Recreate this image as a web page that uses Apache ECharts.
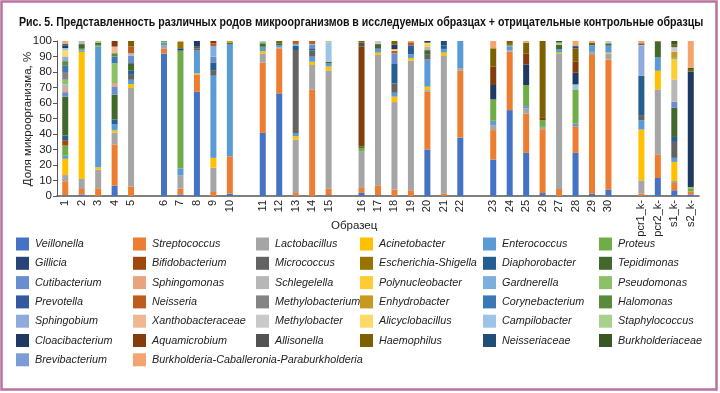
<!DOCTYPE html>
<html><head><meta charset="utf-8">
<script src="https://cdn.jsdelivr.net/npm/echarts@6/dist/echarts.min.js"></script>
<style>html,body{margin:0;padding:0;background:#fff}#c{width:720px;height:393px}</style>
</head><body><div id="c"></div>
<script>
// Samples (x categories) and where the visual gaps are
const samples = ['1','2','3','4','5','6','7','8','9','10','11','12','13','14','15','16','17','18','19','20','21','22','23','24','25','26','27','28','29','30','pcr1_k-','pcr2_k-','s1_k-','s2_k-'];
const gapAfter = ['5','10','15','22','30'];
const yTicks = [0,10,20,30,40,50,60,70,80,90,100];

// Values per genus, % (order: 1..30, pcr1_k-, pcr2_k-, s1_k-, s2_k-)
const Veillonella      = [0.5,1,0,6.6,0, 92,1,67.2,0,1.5, 40.7,66.2,0,0,0.5, 2,0.5,0,0,30, 0,37.7,23.5,55.4,27.8, 1.9,0,27.8,1.5,4.1, 0,11.6,3.7,1];
const Streptococcus    = [9,3.5,5,26.7,6, 3,3.7,11.2,2.6,24.1, 45.3,29.1,1.9,68.8,4.2, 3.2,6.4,4.1,3.7,37.2, 1.5,43.1,19,37.7,25.4, 41.2,4.5,17.2,89.5,84, 1.5,15.3,4.7,2];
const Lactobacillus    = [4,6.5,12,7.5,63.7, 2,8.7,0,15.7,0, 6,0.5,34.5,15.7,76.3, 23.8,84.1,56.5,83.6,1.1, 88.8,1.7,3.2,1,3.3, 1.5,87.1,0,2,3.9, 8.6,41.9,1.3,0];
const Acinetobacter    = [10.5,82,1.5,1.5,2.5, 0,0,0.7,6.3,0, 1.5,0,2.2,2.1,2.5, 0,1.5,3.5,1.7,2.2, 2.2,0,0,0,0, 0,0.9,0,0,0.5, 32.8,12,12.3,0];
const Enterococcus     = [2,1,78,3.9,2.8, 2,4.3,14.7,53,72.5, 2.8,1.6,1.7,3.3,2, 0,2.5,2.5,2.4,17.6, 2.4,17.5,2.8,2.5,1.5, 0,2.3,1.8,4.4,4.5, 6,8.6,2.6,0];
const Proteus          = [6.5,1,1,0,0, 1,76.1,0,0,0, 0,0,0,0,0, 2,0,0,0,0, 0,0,13.8,1,13.6, 4.3,0,22,0,0, 0,0,0,1.5];
const Gillicia         = [0,0,0,0,0, 0,1.5,0,0,0, 0,0,0,0,0, 0,0,0,0,0, 0,0,0,0,0, 0,0,0,0,0, 0,0,0,0];
const Bifidobacterium  = [3.5,0,0,0,0, 0,0,0,0,0, 0,0,0,0,0, 0,0,0,0,0, 0,0,0,0,0, 0,0,0,0,0, 0,0,0,0];
const Micrococcus      = [0,0,0,0,3.2, 0,0,1.5,3.2,0, 0,0,53.9,3.9,0, 0,0,6,0,3, 0,0,0,0,0, 0,0,0,0,0, 3.3,0,10.3,0];
const EscherichiaShigella = [0,0,0,0,0, 0,4.3,0,0,0, 0,0,0,0,0, 0,0,0,0,0, 0,0,0,0,0, 0,0,0,0,0, 0,0,0,0];
const Diaphorobacter   = [3,0,0,3.2,2.6, 0,0,0,5.4,0, 0,0,2.6,1.5,0, 0,0,13,4.1,0, 2.3,0,0,0,0, 0,0,0,0,0, 25.4,0,3.2,0];
const Tepidimonas      = [25,3,1.5,16,4.9, 0,0,1,0,0.8, 2.2,1.1,0,0,1.1, 1,3,0,0,3, 0,0,0,0,0, 0,2.6,0,0,1.5, 0,10.1,18.8,0];
const Cutibacterium    = [3,0,0,5.3,4.9, 0,0,0,3.7,0, 0,0,0,2.5,0, 0,0,6.4,0,0, 0,0,0,0,0, 0,0,0,0,0, 0,0,3.9,0];
const Sphingomonas     = [2,0,0,2.2,0, 0,0,0,0,0, 0,0,0,0,0, 0,0,0,0,0, 0,0,0,0,0, 0,0,0,0,0, 0,0,0,0];
const Schlegelella     = [3,2,0,0,1.5, 0,0,0,0,0, 0,0,0,0,0, 0,0,0,0,2.3, 0,0,0,0,0, 0,0,0,0,0, 0,0,14.4,0];
const Polynucleobacter = [0,0,0,0,0, 0,0,0,0,0, 0,0,0,0,0, 0,0,0,0,1.5, 0,0,0,0,0, 0,0,0,0,0, 0,0,12.9,0];
const Gardnerella      = [0,0,0,0,0, 0,0,0,6.9,0, 0,0,1.3,0.3,0, 0,0,0,0,0, 0,0,0,0,0, 0,0,0,0,0, 0,0,0,0];
const Pseudomonas      = [3,0,0,12.8,0, 0,0,0,0,0, 1,0,0,0,0, 0,0,0,0,0, 0,0,0,0,0, 0,0,0,0,0, 0,0,1,1.3];
const Prevotella       = [0,0,0,0,0, 0,0,0,0,0, 0,0,0,0,0, 0,0,0,1.7,0, 0,0,0,0,0, 0,0,0,0,0, 0,0,0,0];
const Neisseria        = [0,0,0,0,4.3, 0,0,0,1.7,0, 0,0,1.9,1.9,0, 0,0,1.7,2,0, 0,0,0,0,0, 0,0,0,0,0, 0,0.5,0,0];
const Methylobacterium = [5,0,0,0,0, 0,0,0,0,0, 0,0,0,0,0, 0,0,0,0,0, 0,0,0,0,0, 0,0,0,0,0, 0,0,0,0];
const Enhydrobacter    = [0,0,0,0,0, 0,0,0,0,1.1, 0,0,0,0,0, 0,0,0,0,0, 0,0,0,0,0, 0,0,0,0,0, 0,0,4,0];
const Corynebacterium  = [4,0,0,4.3,0, 0,0,0,0,0, 0,0,0,0,0, 0,0,0,0,0, 0,0,0,0,0, 0,0,0,0,0, 0,0,0,0];
const Halomonas        = [3,0,0,2.1,0, 0,0,0,0,0, 0,0,0,0,0, 0,0,0,0,0, 0,0,0,0,0, 0,0,0,0,0, 0,0,0,0];
const Sphingobium      = [3,0,0,0,0, 0,0,0,0,0, 0,0,0,0,0, 0,0,0,0,0, 0,0,0,0,0, 0,0,0,0,0, 19.2,0,0,0];
const Xanthobacteraceae = [0,0,0,4.3,0, 0,0,0,0,0, 0,0,0,0,0, 0,0,0,0,0, 0,0,0,0,0, 0,0,0,0,0, 0,0,0,0];
const Methylobacter    = [0,0,0,0,0, 0,0,0,0,0, 0,0,0,0,0, 0,2,0,0,0, 0,0,0,0,0, 0,0,0,0,1.5, 0,0,2,0];
const Alicyclobacillus = [4,0,0,0,0, 0,0,0,0,0, 0,0,0,0,0, 0,0,1,0,1, 0,0,0,0,0, 0,0,0,0,0, 0,0,0,0];
const Campilobacter    = [1.5,0,0,0,0, 0,0,0,0,0, 0.5,0,0,0,12.5, 0,0,0,0,0, 0,0,0,0,0, 0,0,3.2,0,0, 0.7,0,1,0];
const Staphylococcus   = [0,0,1,0,0, 0,0,0,0,0, 0,0,0,0,0.9, 0,0,0,0,0, 0,0,0,0,0, 0,1.6,0,0,0, 0,0,0,0];
const Cloacibacterium  = [1.5,0,0,0,0, 0,0,3.7,0,0, 0,0,0,0,0, 0,0,3,0,1.1, 0,0,9.3,0,13.3, 0,0,7.5,0,0, 0,0,0,74.4];
const Aquamicrobium    = [0,0,0,3.6,0, 0,0,0,1.5,0, 0,0,0,0,0, 64.6,0,0,0,0, 0,0,11.8,1,7.1, 1.5,0,7.1,0,0, 1,0,0,0];
const Allisonella      = [0,0,0,0,0, 0,0,0,0,0, 0,0,0,0,0, 2.3,0,0,0,0, 0,0,0,0,0, 0,0,0,0,0, 0,0,0,0];
const Haemophilus      = [0,0,0,0,3.6, 0,0,0,0,0, 0,1.5,0,0,0, 1.1,0,2.3,0,0, 0,0,11.9,1.4,6.9, 49.6,0,8.6,1.6,0, 0,0,1.5,1.2];
const Neisseriaceae    = [1,0,0,0,0, 0,0,0,0,0, 0,0,0,0,0, 0,0,0,0,0, 2.8,0,0,0,0, 0,0,1.5,0,0, 0,0,0,0];
const Burkholderiaceae = [0,0,0,0,0, 0,0,0,0,0, 0,0,0,0,0, 0,0,0,0,0, 0,0,0,0,0, 0,1,0,0,0, 0,0,2.4,1.3];
const Brevibacterium   = [0,0,0,0,0, 0,0,0,0,0, 0,0,0,0,0, 0,0,0,0,0, 0,0,0,0,0, 0,0,0,0,0, 0,0,0,0];
const BCP              = [2,0,0,0,0, 0,0.4,0,0,0, 0,0,0,0,0, 0,0,0,0.8,0, 0,0,4.7,0,1.1, 0,0,3.3,1,0, 1.5,0,0,17.3];

const seriesNames = ['Veillonella','Streptococcus','Lactobacillus','Acinetobacter','Enterococcus','Proteus',
 'Gillicia','Bifidobacterium','Micrococcus','Escherichia-Shigella','Diaphorobacter','Tepidimonas',
 'Cutibacterium','Sphingomonas','Schlegelella','Polynucleobacter','Gardnerella','Pseudomonas',
 'Prevotella','Neisseria','Methylobacterium','Enhydrobacter','Corynebacterium','Halomonas',
 'Sphingobium','Xanthobacteraceae','Methylobacter','Alicyclobacillus','Campilobacter','Staphylococcus',
 'Cloacibacterium','Aquamicrobium','Allisonella','Haemophilus','Neisseriaceae','Burkholderiaceae',
 'Brevibacterium','Burkholderia-Caballeronia-Paraburkholderia'];
const seriesValues = [Veillonella,Streptococcus,Lactobacillus,Acinetobacter,Enterococcus,Proteus,
 Gillicia,Bifidobacterium,Micrococcus,EscherichiaShigella,Diaphorobacter,Tepidimonas,
 Cutibacterium,Sphingomonas,Schlegelella,Polynucleobacter,Gardnerella,Pseudomonas,
 Prevotella,Neisseria,Methylobacterium,Enhydrobacter,Corynebacterium,Halomonas,
 Sphingobium,Xanthobacteraceae,Methylobacter,Alicyclobacillus,Campilobacter,Staphylococcus,
 Cloacibacterium,Aquamicrobium,Allisonella,Haemophilus,Neisseriaceae,Burkholderiaceae,
 Brevibacterium,BCP];
const colors = ['#4472C4','#ED7D31','#A5A5A5','#FFC000','#5B9BD5','#70AD47',
 '#264478','#9E480E','#636363','#997300','#255E91','#43682B',
 '#698ED0','#E8A47C','#B7B7B7','#FFCD33','#7CAFDD','#8CC168',
 '#335AA1','#BE5B1E','#848484','#C9991F','#3A78B8','#5A8A3A',
 '#8FAADC','#F0B890','#C9C9C9','#FFD966','#9DC3E6','#A9D18E',
 '#203864','#843C0C','#525252','#7F6000','#1F4E79','#385723',
 '#7C9CD6','#F2A56E'];

// Build categories with blank gap slots
const categories = [];
const slotIndex = [];
let gapN = 0;
samples.forEach((s, i) => {
  slotIndex.push(categories.length);
  categories.push(s);
  if (gapAfter.includes(s)) { gapN++; categories.push(' '.repeat(gapN)); }
});

const series = seriesNames.map((name, k) => {
  const d = categories.map(() => 0);
  seriesValues[k].forEach((v, i) => { d[slotIndex[i]] = v; });
  return { name, type: 'bar', stack: 'all', barWidth: 6, data: d,
    itemStyle: { color: colors[k] }, emphasis: { disabled: true } };
});

const legendCols = [16, 133, 256, 360, 483, 599];
const legends = legendCols.map((x, c) => ({
  orient: 'vertical', left: x, top: 237.5, padding: 0,
  itemWidth: 13, itemHeight: 13, itemGap: 6.3,
  icon: 'rect', selectedMode: false,
  data: seriesNames.filter((n, i) => i % 6 === c),
  textStyle: { fontFamily: 'Liberation Sans, Arial', fontStyle: 'italic', fontSize: 10.8, color: '#222', padding: [0,0,0,1] }
}));

const chart = echarts.init(document.getElementById('c'), null, { renderer: 'canvas' });
chart.setOption({
  backgroundColor: '#fff',
  animation: false,
  legend: legends,
  grid: { left: 57, right: 21, top: 41, bottom: 197 },
  xAxis: {
    type: 'category', data: categories,
    axisLine: { lineStyle: { color: '#555', width: 1.5 } },
    axisTick: { show: false },
    axisLabel: { rotate: 90, interval: 0, margin: 4, fontSize: 11, color: '#222', fontFamily: 'Liberation Sans, Arial' }
  },
  yAxis: {
    type: 'value', min: yTicks[0], max: yTicks[yTicks.length - 1], interval: 10,
    splitLine: { show: false },
    axisLine: { show: true, lineStyle: { color: '#555', width: 1 } },
    axisTick: { show: true, length: 4, lineStyle: { color: '#555' } },
    axisLabel: { fontSize: 11.5, color: '#222', margin: 5, fontFamily: 'Liberation Sans, Arial' }
  },
  graphic: [
    { type: 'rect', shape: { x: 1.5, y: 1.5, width: 715, height: 388 }, style: { fill: 'none', stroke: '#B8739F', lineWidth: 2.5 }, silent: true },
    { type: 'text', x: 19, y: 16, scaleX: 0.815, silent: true,
      style: { text: 'Рис. 5. Представленность различных родов микроорганизмов в исследуемых образцах + отрицательные контрольные образцы',
               fontFamily: 'Liberation Sans, Arial', fontWeight: 'bold', fontSize: 13, fill: '#111' } },
    { type: 'text', x: 28, y: 119, rotation: Math.PI / 2, silent: true,
      style: { text: 'Доля микроорганизма, %', align: 'center', verticalAlign: 'middle', fontSize: 11.5, fill: '#222', fontFamily: 'Liberation Sans, Arial' } },
    { type: 'text', left: 331, top: 220, silent: true, style: { text: 'Образец', fontSize: 11.5, fill: '#222', fontFamily: 'Liberation Sans, Arial' } }
  ],
  series
});
</script></body></html>
